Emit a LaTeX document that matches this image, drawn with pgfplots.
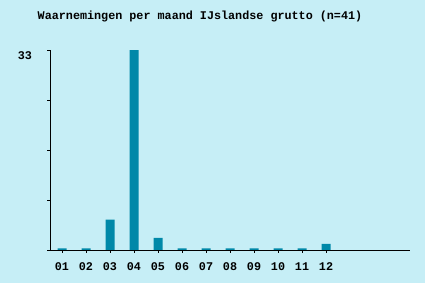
\documentclass[border=0pt]{standalone}
\usepackage{pgfplots}
\pgfplotsset{compat=1.18}
\usepackage{fontspec}
\setmainfont{Liberation Mono}
\definecolor{bgcol}{RGB}{198,238,246}
\definecolor{barcol}{RGB}{0,136,168}
\begin{document}
\begin{tikzpicture}
\fill[bgcol] (0,0) rectangle (425bp,283bp);
\node[font=\fontsize{11.8}{13}\selectfont\bfseries] at (200bp,267bp) {Waarnemingen per maand IJslandse grutto (n=41)};
\begin{axis}[
  at={(50bp,33bp)}, anchor=south west,
  scale only axis, width=360bp, height=200bp,
  xmin=-0.5, xmax=14.5, ymin=0, ymax=33,
  axis x line*=bottom, axis y line*=left,
  axis line style={black, line width=0.8pt},
  ybar, bar width=9bp,
  xtick={0,...,11},
  xticklabels={01,02,03,04,05,06,07,08,09,10,11,12},
  ytick={0,8.25,16.5,24.75,33},
  yticklabels={,,,,33},
  tick align=outside,
  major tick length=2.5bp,
  tick style={black, line width=0.8pt},
  /pgf/number format/assume math mode=true,
  ticklabel style={font=\fontsize{11.8}{13}\selectfont\bfseries},
  xticklabel style={yshift=-7bp},
  yticklabel style={xshift=-12bp, yshift=-6bp},
]
\addplot[draw=none, fill=barcol] coordinates {
(0,0.25) (1,0.25) (2,5) (3,33) (4,2) (5,0.25) (6,0.25) (7,0.25) (8,0.25) (9,0.25) (10,0.25) (11,1)
};
\end{axis}
\end{tikzpicture}
\end{document}
